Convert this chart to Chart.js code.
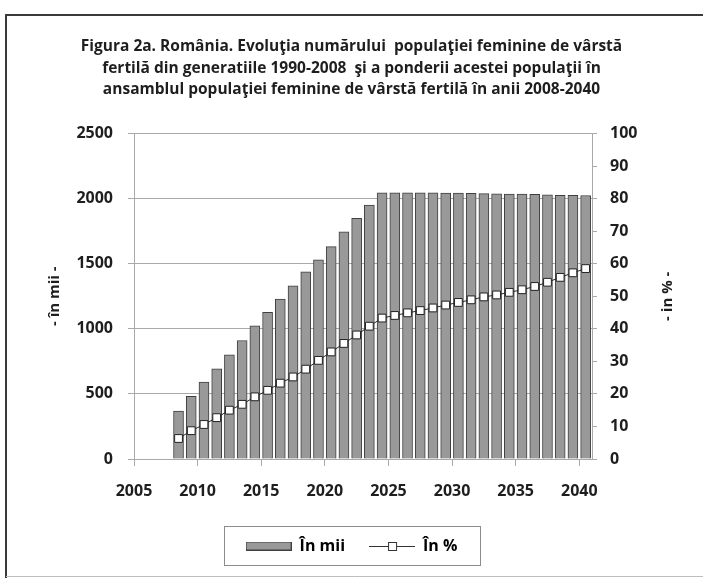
<!DOCTYPE html>
<html>
<head>
<meta charset="utf-8">
<script src="https://cdn.jsdelivr.net/npm/chart.js@4.4.0/dist/chart.umd.min.js"></script>
<style>
  html, body { margin: 0; padding: 0; background: #fff; }
  #wrap { position: relative; width: 703px; height: 578px; }
</style>
</head>
<body>
<div id="wrap"><canvas id="fertileChart" width="703" height="578"></canvas></div>
<script>
// Data
const years = [2008, 2009, 2010, 2011, 2012, 2013, 2014, 2015, 2016, 2017, 2018,
               2019, 2020, 2021, 2022, 2023, 2024, 2025, 2026, 2027, 2028, 2029,
               2030, 2031, 2032, 2033, 2034, 2035, 2036, 2037, 2038, 2039, 2040];
const femalesThousands = [369, 481, 591, 693, 800, 910, 1022, 1126, 1228, 1330, 1437,
                          1529, 1631, 1745, 1848, 1950, 2045, 2045, 2045, 2045, 2044, 2043,
                          2043, 2040, 2038, 2036, 2035, 2034, 2032, 2028, 2026, 2025, 2024];
const sharePercent = [6.3, 8.7, 10.6, 12.7, 15.0, 16.8, 19.1, 21.1, 23.3, 25.2, 27.6,
                      30.3, 32.9, 35.5, 38.1, 40.8, 43.3, 44.1, 44.9, 45.6, 46.4, 47.3,
                      48.1, 48.9, 49.8, 50.4, 51.2, 52.0, 53.0, 54.3, 55.8, 57.2, 58.5];
const xTickYears = [2005, 2010, 2015, 2020, 2025, 2030, 2035, 2040];
const leftTicks = [0, 500, 1000, 1500, 2000, 2500];
const rightTicks = [0, 10, 20, 30, 40, 50, 60, 70, 80, 90, 100];

const titleLines = [
    'Figura 2a. România. Evoluţia numărului  populaţiei feminine de vârstă',
    'fertilă din generatiile 1990-2008  şi a ponderii acestei populaţii în',
    'ansamblul populaţiei feminine de vârstă fertilă în anii 2008-2040'
];
const seriesNames = ['În mii', 'În %'];
const leftAxisTitle = '- în mii -';
const rightAxisTitle = '- in % -';

const FONT = '"Open Sans"';
const TEXT = '#1e1e1e';
const GRID = '#a9a9a9';
const BAR_FILL = '#999999';
const BAR_EDGE = '#3f3f3f';

// bars sit in the middle of each year slot, like the original
const barPoints = years.map((y, i) => ({ x: y + 0.5, y: femalesThousands[i] }));
const sharePoints = years.map((y, i) => ({ x: y + 0.5, y: sharePercent[i] }));

// legend swatches
function makeBarSwatch() {
    const c = document.createElement('canvas');
    c.width = 46; c.height = 9;
    const g = c.getContext('2d');
    g.fillStyle = BAR_FILL;
    g.fillRect(0.5, 0.5, 45, 8);
    g.strokeStyle = BAR_EDGE;
    g.lineWidth = 1;
    g.strokeRect(0.5, 0.5, 45, 8);
    return c;
}
function makeLineSwatch() {
    const c = document.createElement('canvas');
    c.width = 46; c.height = 10;
    const g = c.getContext('2d');
    g.strokeStyle = '#333';
    g.lineWidth = 1;
    g.beginPath(); g.moveTo(0, 5.5); g.lineTo(46, 5.5); g.stroke();
    g.fillStyle = '#fff';
    g.fillRect(19.5, 1.5, 8, 8);
    g.strokeRect(19.5, 1.5, 8, 8);
    return c;
}
const swatches = [makeBarSwatch(), makeLineSwatch()];

const framePlugin = {
    id: 'frame',
    beforeDraw(chart) {
        const { ctx, width, height } = chart;
        ctx.save();
        ctx.fillStyle = '#fff';
        ctx.fillRect(0, 0, width, height);
        ctx.strokeStyle = '#3a3a3a';
        ctx.lineWidth = 2;
        ctx.beginPath();
        ctx.moveTo(6, height);
        ctx.lineTo(6, 15);
        ctx.lineTo(width, 15);
        ctx.stroke();
        ctx.strokeStyle = '#bdbdbd';
        ctx.lineWidth = 1;
        ctx.beginPath();
        ctx.moveTo(6, height - 1.5);
        ctx.lineTo(width, height - 1.5);
        ctx.stroke();
        ctx.restore();
    }
};

const axisTitlesPlugin = {
    id: 'axisTitles',
    afterDraw(chart) {
        const { ctx, chartArea } = chart;
        const midY = (chartArea.top + chartArea.bottom) / 2;
        ctx.save();
        ctx.font = 'bold 15px ' + FONT;
        ctx.fillStyle = TEXT;
        ctx.textAlign = 'center';
        ctx.textBaseline = 'middle';
        [[chartArea.left - 79, leftAxisTitle], [chartArea.right + 76, rightAxisTitle]].forEach(([x, text]) => {
            ctx.save();
            ctx.translate(x, midY);
            ctx.rotate(-Math.PI / 2);
            ctx.fillText(text, 0, 0);
            ctx.restore();
        });
        ctx.restore();
    }
};

const legendBoxPlugin = {
    id: 'legendBox',
    afterDraw(chart) {
        const boxes = chart.legend && chart.legend.legendHitBoxes;
        if (!boxes || !boxes.length) return;
        const left = Math.min(...boxes.map(b => b.left)) - 22;
        const right = Math.max(...boxes.map(b => b.left + b.width)) + 22;
        const top = Math.min(...boxes.map(b => b.top)) - 12;
        const bottom = Math.max(...boxes.map(b => b.top + b.height)) + 11;
        const ctx = chart.ctx;
        ctx.save();
        ctx.strokeStyle = '#8c8c8c';
        ctx.lineWidth = 1;
        ctx.strokeRect(Math.round(left) + 0.5, Math.round(top) + 0.5, Math.round(right - left), Math.round(bottom - top));
        ctx.restore();
    }
};

const tickFont = { family: FONT, size: 16, weight: 'bold' };

const ctx = document.getElementById('fertileChart').getContext('2d');
new Chart(ctx, {
    type: 'bar',
    data: {
        datasets: [{
            type: 'bar',
            label: seriesNames[0],
            data: barPoints,
            yAxisID: 'y',
            backgroundColor: BAR_FILL,
            borderColor: BAR_EDGE,
            borderWidth: 1,
            barThickness: 10,
            order: 2
        }, {
            type: 'line',
            label: seriesNames[1],
            data: sharePoints,
            yAxisID: 'y1',
            borderColor: '#2b2b2b',
            borderWidth: 1,
            pointStyle: 'rect',
            pointRadius: 5.5,
            pointBackgroundColor: '#fff',
            pointBorderColor: '#222',
            pointBorderWidth: 1,
            tension: 0,
            order: 1
        }]
    },
    options: {
        responsive: false,
        animation: false,
        layout: { padding: { top: 0, left: 0, right: 0, bottom: 14 } },
        scales: {
            x: {
                type: 'linear',
                min: 2005,
                max: 2041,
                offset: false,
                afterBuildTicks: s => { s.ticks = xTickYears.map(v => ({ value: v })); },
                afterFit: s => { s.height = 55; },
                grid: { offset: false, drawOnChartArea: false, drawTicks: true, tickLength: 7, color: GRID },
                border: { display: true, color: GRID },
                ticks: {
                    padding: 16,
                    color: TEXT,
                    font: tickFont,
                    callback: v => String(v),
                    maxRotation: 0
                }
            },
            y: {
                position: 'left',
                min: 0,
                max: 2500,
                afterBuildTicks: s => { s.ticks = leftTicks.map(v => ({ value: v })); },
                afterFit: s => { s.width = 134; },
                grid: { color: GRID, tickLength: 6 },
                border: { display: true, color: GRID },
                ticks: {
                    padding: 15,
                    color: TEXT,
                    font: tickFont,
                    callback: v => String(v)
                }
            },
            y1: {
                position: 'right',
                min: 0,
                max: 100,
                afterBuildTicks: s => { s.ticks = rightTicks.map(v => ({ value: v })); },
                afterFit: s => { s.width = 111; },
                grid: { drawOnChartArea: false, color: GRID, tickLength: 5 },
                border: { display: true, color: GRID },
                ticks: {
                    padding: 13,
                    color: TEXT,
                    font: tickFont,
                    callback: v => String(v)
                }
            }
        },
        plugins: {
            title: {
                display: true,
                text: titleLines,
                color: TEXT,
                font: { family: FONT, size: 15.5, weight: 'bold', lineHeight: 1.387 },
                padding: { top: 36, bottom: 33 }
            },
            legend: {
                display: true,
                position: 'bottom',
                labels: {
                    usePointStyle: true,
                    pointStyleWidth: 46,
                    padding: 24,
                    color: TEXT,
                    font: { family: FONT, size: 16, weight: 'bold' },
                    generateLabels: () => seriesNames.map((name, i) => ({
                        text: name,
                        pointStyle: swatches[i],
                        fillStyle: 'transparent',
                        strokeStyle: 'transparent',
                        lineWidth: 0,
                        datasetIndex: i,
                        hidden: false
                    }))
                }
            },
            tooltip: { enabled: false }
        }
    },
    plugins: [framePlugin, axisTitlesPlugin, legendBoxPlugin]
});
</script>
</body>
</html>
